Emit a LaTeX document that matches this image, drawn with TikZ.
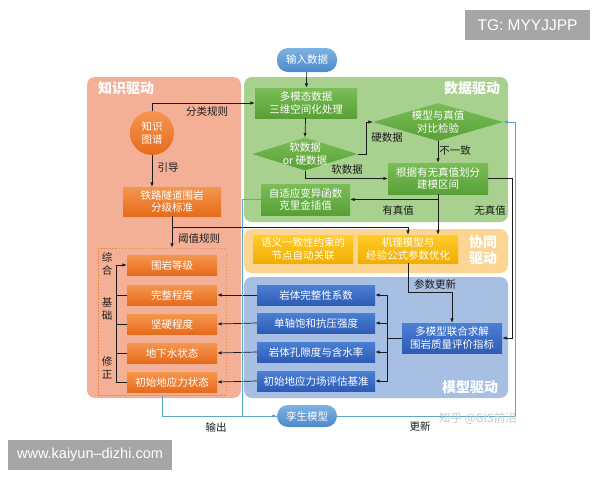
\documentclass[tikz,border=0pt]{standalone}
\usepackage{fontspec}
\setmainfont{Noto Sans CJK SC}
\newfontfamily\lat{Liberation Sans}
\usetikzlibrary{shapes.geometric,arrows.meta,calc}
\definecolor{pOr}{HTML}{F4B097}
\definecolor{pGr}{HTML}{A8D08E}
\definecolor{pYe}{HTML}{FCD592}
\definecolor{pBl}{HTML}{A6BFE3}
\definecolor{oTop}{HTML}{F5964E}
\definecolor{oBot}{HTML}{E66B1C}
\definecolor{gTop}{HTML}{7BBD58}
\definecolor{gBot}{HTML}{58A036}
\definecolor{yTop}{HTML}{FFCC2A}
\definecolor{yBot}{HTML}{F2AE00}
\definecolor{bTop}{HTML}{4B80D4}
\definecolor{bBot}{HTML}{2E5BB5}
\definecolor{eTop}{HTML}{7DB3E3}
\definecolor{eBot}{HTML}{4D89CA}
\definecolor{lblue}{HTML}{5AA5C8}
\definecolor{ink}{HTML}{1C1C1C}
\tikzset{
  box/.style={rectangle, inner sep=1pt, align=center, text=white, font=\fontsize{10.5}{12.5}\selectfont},
  obox/.style={box, top color=oTop, bottom color=oBot},
  gbox/.style={box, top color=gTop, bottom color=gBot},
  ybox/.style={box, top color=yTop, bottom color=yBot},
  bbox/.style={box, top color=bTop, bottom color=bBot},
  ebox/.style={box, rounded corners=11pt, top color=eTop, bottom color=eBot},
  gdiam/.style={diamond, inner sep=0pt, top color=gTop, bottom color=gBot},
  dtext/.style={align=center, text=white, inner sep=0pt, font=\fontsize{10.5}{12.5}\selectfont},
  lbl/.style={font=\fontsize{10.5}{12}\selectfont, text=ink, inner sep=0pt},
  ttl/.style={font=\fontsize{14}{16}\selectfont\bfseries, text=white, inner sep=0pt, align=center},
  conn/.style={draw=ink, line width=0.7pt, -{Latex[length=4.5pt,width=3.5pt]}},
  plain/.style={draw=ink, line width=0.7pt},
  bconn/.style={draw=lblue, line width=0.8pt, -{Latex[length=4.5pt,width=3.5pt]}},
  bplain/.style={draw=lblue, line width=0.8pt},
  gray tag/.style={fill=black!35, text=white, inner sep=0pt},
}
\begin{document}
\begin{tikzpicture}[x=1pt,y=-1pt]
\useasboundingbox (0,0) rectangle (600,480);
\fill[white] (0,0) rectangle (600,480);

% panels
\fill[pOr, rounded corners=8pt] (87,77) rectangle (241,398);
\fill[pGr, rounded corners=8pt] (244,77) rectangle (508,222);
\fill[pYe, rounded corners=8pt] (244,229) rectangle (508,273);
\fill[pBl, rounded corners=8pt] (244,277) rectangle (508,398);

% titles
\node[ttl] (t1) at (126,88) {知识驱动};
\node[ttl] (t2) at (472,88) {数据驱动};
\node[ttl, font=\fontsize{14}{16.5}\selectfont\bfseries] (t3) at (483,250) {协同\\驱动};
\node[ttl] (t4) at (470,387) {模型驱动};

% data driven
\node[ebox, minimum width=60pt, minimum height=24pt] (in) at (307,60) {输入数据};
\node[gbox, minimum width=102pt, minimum height=30pt] (multi) at (306,103) {多模态数据\\三维空间化处理};
\node[gdiam, minimum width=105pt, minimum height=33pt] (soft) at (305,154) {};
\node[dtext] at (soft) {软数据\\or 硬数据};
\node[gdiam, minimum width=130pt, minimum height=38pt] (cmp) at (438,122) {};
\node[dtext] at (cmp) {模型与真值\\对比检验};
\node[gbox, minimum width=100pt, minimum height=31pt] (div) at (438,178.5) {根据有无真值划分\\建模区间};
\node[gbox, minimum width=89pt, minimum height=31pt] (krig) at (305.5,199.5) {自适应变异函数\\克里金插值};

% knowledge driven
\node[circle, minimum size=44pt, inner sep=0pt, top color=oTop, bottom color=oBot, align=center, text=white, font=\fontsize{10.5}{12.5}\selectfont] (kg) at (152,133) {知识\\图谱};
\node[obox, minimum width=98pt, minimum height=29pt] (std) at (172,201.5) {铁路隧道围岩\\分级标准};
\node[draw=oBot!80, dash pattern=on 1.5pt off 1.5pt, line width=0.5pt, minimum width=128pt, minimum height=147pt, inner sep=0pt] (dot) at (162,321.5) {};
\node[obox, minimum width=90pt, minimum height=20pt] (o0) at (172,265) {围岩等级};
\node[obox, minimum width=90pt, minimum height=20pt] (o1) at (172,295) {完整程度};
\node[obox, minimum width=90pt, minimum height=20pt] (o2) at (172,324) {坚硬程度};
\node[obox, minimum width=90pt, minimum height=20pt] (o3) at (172,353) {地下水状态};
\node[obox, minimum width=90pt, minimum height=20pt] (o4) at (172,382) {初始地应力状态};
\node[lbl, align=center, font=\fontsize{10.5}{13}\selectfont] (s1) at (107,264) {综\\合};
\node[lbl, align=center, font=\fontsize{10.5}{13}\selectfont] (s2) at (107,309) {基\\础};
\node[lbl, align=center, font=\fontsize{10.5}{13}\selectfont] (s3) at (107,368) {修\\正};

% co-driven
\node[ybox, minimum width=100pt, minimum height=28pt] (sem) at (303,249) {语义一致性约束的\\节点自动关联};
\node[ybox, minimum width=100pt, minimum height=28pt] (mech) at (408,249) {机理模型与\\经验公式参数优化};

% model driven
\node[bbox, minimum width=118pt, minimum height=20pt] (b1) at (316,295) {岩体完整性系数};
\node[bbox, minimum width=118pt, minimum height=20pt] (b2) at (316,323) {单轴饱和抗压强度};
\node[bbox, minimum width=118pt, minimum height=20pt] (b3) at (316,352) {岩体孔隙度与含水率};
\node[bbox, minimum width=118pt, minimum height=20pt] (b4) at (316,381) {初始地应力场评估基准};
\node[bbox, minimum width=100pt, minimum height=30pt] (mm) at (452,338) {多模型联合求解\\围岩质量评价指标};

\node[ebox, minimum width=60pt, minimum height=22pt] (twin) at (307,416) {孪生模型};

% connectors
\draw[conn] (in) -- (multi);
\draw[conn] (kg.north) |- (multi.west);
\node[lbl] (l1) at (207,112) {分类规则};
\draw[conn] (kg.south) -- (kg.south |- std.north);
\node[lbl] (l2) at (168,168) {引导};
\draw[conn] (multi) -- (soft.north);
\draw[conn] (soft.east) -- ++(9,0) |- (cmp.west);
\node[lbl] (l3) at (387,138) {硬数据};
\draw[conn] (cmp.south) -- (div.north);
\node[lbl] (l4) at (455,151) {不一致};
\draw[conn] (soft.south) |- (div.west);
\node[lbl] (l5) at (347,170) {软数据};
\draw[conn] (div.south) |- (krig.east);
\draw[conn] (div.south) -- (div.south |- mech.north);
\node[lbl] (l6) at (398,210) {有真值};
\draw[conn] (div.east) -- ++(24,0) |- (mm.east);
\node[lbl] (l7) at (490,210) {无真值};
\draw[conn] (std.south) -- ++(0,11) -| (mech.north);
\draw[conn] (std.south) -- (std.south |- dot.north);
\node[lbl] (l8) at (199,239) {阈值规则};
\draw[conn] (o4.west) -- ++(-10,0) |- (o0.west);
\foreach \i in {1,2,3} {\draw[plain] (o\i.west) -- ++(-10,0);}
\foreach \i in {1,2,3,4} {
  \draw[conn] (mm.west) -- ++(-14,0) |- (b\i.east);
  \draw[conn] (b\i.west) -- (o\i.east);
}
\draw[conn] (mech.south) -- ++(0,29) -| (mm.north);
\node[lbl] (l9) at (435,284) {参数更新};

\coordinate (outp) at (162,395);
\draw[bplain] (krig.west) -- ++(-18,0) |- (twin.west);
\draw[bconn] (outp) |- (twin.west);
\node[lbl] (l10) at (216,427) {输出};
\draw[bconn] (twin.east) -- ++(178,0) |- (cmp.east);
\node[lbl] (l11) at (420,426) {更新};

% watermark and tags
\node[font=\fontsize{11.5}{13}\selectfont, text=black!22, inner sep=0pt] (wm) at (478,419) {知乎 @GIS前沿};
\node[gray tag, minimum width=125pt, minimum height=30pt, font=\lat\fontsize{15.5}{18}\selectfont] (tg) at (527.5,25) {TG: MYYJJPP};
\node[gray tag, minimum width=164pt, minimum height=30pt, font=\lat\fontsize{14.5}{17}\selectfont] (www) at (90,455) {www.kaiyun–dizhi.com};
\end{tikzpicture}
\end{document}
